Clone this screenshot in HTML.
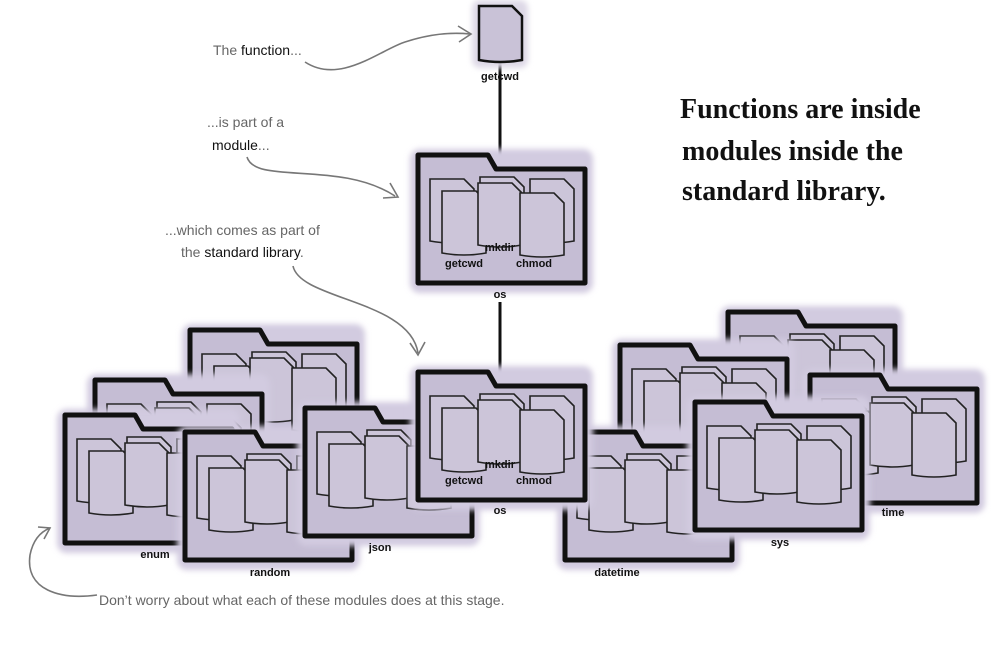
<!DOCTYPE html>
<html><head><meta charset="utf-8">
<style>
html,body{margin:0;padding:0;background:#fff;}
svg{display:block;}
.hand{font-family:"Liberation Sans",sans-serif;font-size:14px;fill:#666;}
.lbl{font-family:"Liberation Sans",sans-serif;font-size:11px;font-weight:bold;fill:#111;text-anchor:middle;}
.title{font-family:"Liberation Serif",serif;font-size:28px;font-weight:bold;fill:#111;}
</style></head>
<body>
<svg id="s" width="991" height="662" viewBox="0 0 991 662" xmlns="http://www.w3.org/2000/svg">
<defs><filter id="blur" x="-10%" y="-10%" width="120%" height="120%"><feGaussianBlur stdDeviation="3"/></filter></defs>
<g id="lines">
<line x1="500" y1="62" x2="500" y2="158" stroke="#111" stroke-width="3"/>
<line x1="500" y1="302" x2="500" y2="375" stroke="#111" stroke-width="3"/>
</g>
<g id="folders"></g>
<g>
<rect x="472" y="0" width="56" height="68" rx="8" fill="#ddd8e6" filter="url(#blur)"/>
<path d="M479 6 L512 6 L522 16 L522 60 Q500 64 479 60 Z" fill="#c9c2d7" stroke="#111" stroke-width="2.5"/>
<text class="lbl" x="500" y="80">getcwd</text>
</g>
<g fill="none" stroke="#777" stroke-width="1.6">
<path d="M305 62 C340 85 380 50 405 42 C430 34 450 32 470 34"/><path d="M458 26 L471 34 L459 42"/>
<path d="M247 157 C255 185 340 160 395 196"/><path d="M390 183 L398 197 L383 198"/>
<path d="M293 266 C300 300 410 300 418 353"/><path d="M410 343 L418 355 L425 342"/>
<path d="M97 595 C60 600 25 590 30 555 C33 540 40 532 50 528"/><path d="M38 527 L50 528 L44 539"/>
</g>
<text class="hand" x="213" y="55">The <tspan fill="#111">function</tspan>...</text>
<text class="hand" x="207" y="127">...is part of a</text>
<text class="hand" x="212" y="150"><tspan fill="#111">module</tspan>...</text>
<text class="hand" x="165" y="235">...which comes as part of</text>
<text class="hand" x="181" y="257">the <tspan fill="#111">standard library</tspan>.</text>
<text class="hand" x="99" y="605">Don’t worry about what each of these modules does at this stage.</text>
<g>
<text class="title" x="680" y="118">Functions are inside</text>
<text class="title" x="682" y="160">modules inside the</text>
<text class="title" x="682" y="200">standard library.</text>
</g>
</svg>
<script>
const folderNames=['back-a','back-b','enum','random','json','back-c','back-d','time','datetime','sys','os-lib','os-top'];
const folderBoxes=[[190,330],[95,380],[65,415],[185,432],[305,408],[728,312],[620,345],[810,375],[565,432],[695,402],[418,372],[418,155]];
const folderLabels=['','','enum','random','json','','','time','datetime','sys','os','os'];
const labelPos=[[0,0],[0,0],[155,558],[270,576],[380,551],[0,0],[0,0],[893,516],[617,576],[780,546],[500,514],[500,298]];
const NS='http://www.w3.org/2000/svg';
const g=document.getElementById('folders');
function mk(t,a,p){const e=document.createElementNS(NS,t);for(const k in a)e.setAttribute(k,a[k]);p.appendChild(e);return e;}
function file(p,x,y,w,h){
  mk('path',{d:`M${x} ${y} L${x+w-10} ${y} L${x+w} ${y+10} L${x+w} ${y+h} Q${x+w/2} ${y+h+4} ${x} ${y+h} Z`,fill:'#ccc5d9',stroke:'#222','stroke-width':1.6},p);
}
folderBoxes.forEach((b,i)=>{
  const x=b[0],y=b[1],w=167,h=128;
  const f=document.createElementNS(NS,'g');
  
  
  g.appendChild(f);
  mk('rect',{x:x-8,y:y-6,width:w+16,height:h+16,rx:10,fill:'#d2cbe0',filter:'url(#blur)'},f);
  mk('path',{d:`M${x} ${y+h} L${x} ${y} L${x+70} ${y} L${x+78} ${y+14} L${x+w} ${y+14} L${x+w} ${y+h} Z`,fill:'#c5bdd4',stroke:'#111','stroke-width':5,'stroke-linejoin':'round'},f);
  const fw=44,fh=62;
  file(f,x+12,y+24,fw,fh);file(f,x+62,y+22,fw,fh);file(f,x+112,y+24,fw,fh);
  file(f,x+24,y+36,fw,fh);file(f,x+60,y+28,fw,fh);file(f,x+102,y+38,fw,fh);
  if(i>=10){
    mk('text',{x:x+46,y:y+112,'class':'lbl'},f).textContent='getcwd';
    mk('text',{x:x+82,y:y+96,'class':'lbl'},f).textContent='mkdir';
    mk('text',{x:x+116,y:y+112,'class':'lbl'},f).textContent='chmod';
  }
  if(folderLabels[i]){
    const t=mk('text',{x:labelPos[i][0],y:labelPos[i][1],'class':'lbl'},f);
    t.textContent=folderLabels[i];
  }
});
</script>
</body></html>
